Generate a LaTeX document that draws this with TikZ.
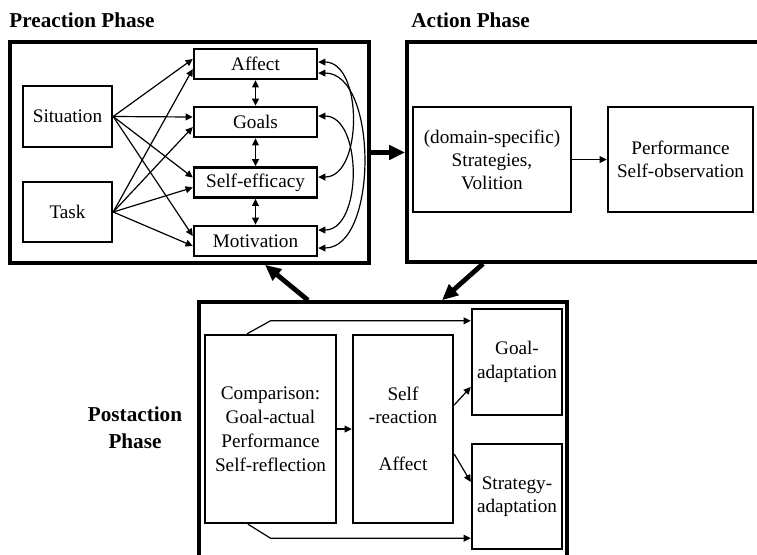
\documentclass[tikz,border=0pt]{standalone}
\usepackage{fontspec}
\setmainfont{Liberation Serif}
\usetikzlibrary{arrows.meta, calc}

\begin{document}
\begin{tikzpicture}[x=0.5pt, y=-0.5pt,
    >={Triangle[length=3.6pt,width=3.4pt]},
    phase/.style={draw, line width=1.8pt, inner sep=0pt},
    box/.style={draw, line width=1.2pt, inner sep=0pt, align=center,
                font=\fontsize{9.6}{11.5}\selectfont},
    title/.style={inner sep=0pt, align=center,
                  font=\fontsize{10.6}{13.5}\selectfont\bfseries},
    arr/.style={->, line width=0.6pt},
    bigarr/.style={-{Triangle[length=8pt,width=7pt]}, line width=2.4pt}
]
    \useasboundingbox (0,0) rectangle (757,554);

    % phases
    \node[phase, minimum width=179.5pt, minimum height=110.5pt] (pre) at (189.5,152.5) {};
    \node[phase, minimum width=191.5pt, minimum height=110pt] (act) at (598.5,152) {};
    \node[phase, minimum width=184pt, minimum height=139pt] (post) at (383,441) {};
    \node[title, anchor=west] (pretitle) at (9,20.5) {Preaction Phase};
    \node[title, anchor=west] (acttitle) at (411,20.5) {Action Phase};
    \node[title] (posttitle) at (135,428) {Postaction\\Phase};

    % preaction
    \node[box, minimum width=44.5pt, minimum height=30.5pt] (situation) at (67.5,116.5) {Situation};
    \node[box, minimum width=44.5pt, minimum height=30pt] (task) at (67.5,212) {Task};
    \foreach \n/\lbl/\y in {affect/Affect/64, goals/Goals/122,
                            selfeff/Self-efficacy/182.5, motiv/Motivation/241}{
        \node[box, minimum width=61.5pt, minimum height=15pt] (\n) at (255.5,\y) {\lbl};
        \draw[arr] (situation.east) -- ([yshift=2.5pt]\n.west);
        \draw[arr] (task.east) -- ([yshift=-2.5pt]\n.west);
    }
    \draw[arr, <->] (affect) -- (goals);
    \draw[arr, <->] (goals) -- (selfeff);
    \draw[arr, <->] (selfeff) -- (motiv);
    \draw[arr, <->] ([yshift=1pt]affect.east) to[out=0, in=0] ([yshift=2.75pt]selfeff.east);
    \draw[arr, <->] ([yshift=-4.5pt]affect.east) to[out=0, in=0, looseness=0.88] ([yshift=-3.5pt]motiv.east);
    \draw[arr, <->] ([yshift=3pt]goals.east) to[out=0, in=0] ([yshift=5.5pt]motiv.east);

    % action
    \node[box, minimum width=79pt, minimum height=52.5pt] (strat) at (492,159.5)
        {(domain-specific)\\Strategies,\\Volition};
    \node[box, minimum width=72.5pt, minimum height=52.5pt] (perf) at (680.5,159.5)
        {Performance\\Self-observation};
    \draw[arr] (strat) -- (perf);

    % postaction
    \node[box, minimum width=65.5pt, minimum height=94pt, font=\fontsize{9.6}{12}\selectfont]
        (comp) at (270.5,429) {Comparison:\\Goal-actual\\Performance\\Self-reflection};
    \node[box, minimum width=50pt, minimum height=94pt, font=\fontsize{9.6}{11.75}\selectfont]
        (selfr) at (403,429) {Self\\-reaction\\[11.75pt]Affect};
    \node[box, minimum width=45pt, minimum height=53pt, font=\fontsize{9.6}{11.75}\selectfont]
        (goaladapt) at (517,362) {Goal-\\adaptation};
    \node[box, minimum width=45pt, minimum height=52.5pt, font=\fontsize{9.6}{11.75}\selectfont]
        (stratadapt) at (517,496.5) {Strategy-\\adaptation};
    \draw[arr] (comp) -- (selfr);
    \draw[arr] ([yshift=12pt]selfr.east) -- ([yshift=-12.5pt]goaladapt.west);
    \draw[arr] ([yshift=-12.5pt]selfr.east) -- ([yshift=7.25pt]stratadapt.west);
    \draw[arr] ([xshift=-11.75pt]comp.north) -- ([yshift=6.5pt]comp.north) coordinate (tb)
        -- (tb -| goaladapt.west);
    \draw[arr] ([xshift=-11.25pt]comp.south) -- ([yshift=-7pt]comp.south) coordinate (bb)
        -- (bb -| stratadapt.west);

    % between phases
    \draw[bigarr] (pre.east) -- (pre.east -| act.west);
    \draw[bigarr] ([xshift=-37.5pt]post.north) -- ([xshift=37.75pt]pre.south);
    \draw[bigarr] ([xshift=-57.75pt]act.south) -- ([xshift=29.5pt]post.north);
\end{tikzpicture}
\end{document}
